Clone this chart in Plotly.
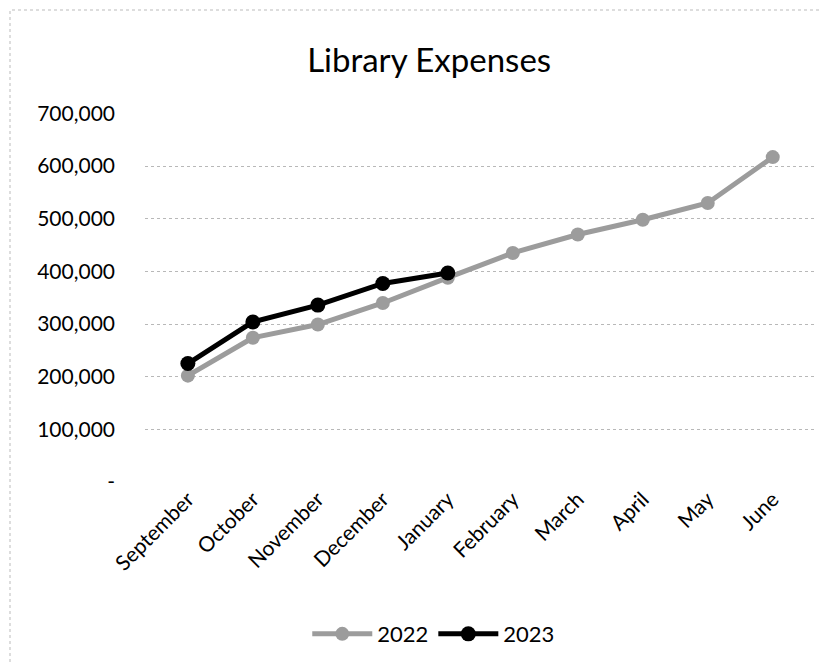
import plotly.graph_objects as go

months = ["September", "October", "November", "December", "January",
          "February", "March", "April", "May", "June"]
expenses_2022 = [202000, 274000, 299000, 340000, 388000, 435000, 470000, 498000, 530000, 617000]
expenses_2023 = [225000, 304000, 336000, 377000, 397000]
y_tickvals = [0, 100000, 200000, 300000, 400000, 500000, 600000, 700000]
y_ticktext = ["-", "100,000", "200,000", "300,000", "400,000", "500,000", "600,000", "700,000"]

FONT = "Lato, 'Open Sans', sans-serif"

fig = go.Figure()
fig.add_trace(go.Scatter(
    x=months, y=expenses_2022, name="2022", mode="lines+markers",
    line=dict(color="#9c9c9c", width=5),
    marker=dict(color="#9c9c9c", size=14),
))
fig.add_trace(go.Scatter(
    x=months[:len(expenses_2023)], y=expenses_2023, name="2023", mode="lines+markers",
    line=dict(color="#000000", width=5),
    marker=dict(color="#000000", size=15),
))

fig.update_layout(
    width=829, height=663,
    margin=dict(l=137, r=22, t=105, b=189, autoexpand=False),
    paper_bgcolor="white", plot_bgcolor="white",
    font=dict(family=FONT, color="#000000"),
    title=dict(text="Library Expenses", x=0.508, xanchor="center", y=0.921, yanchor="middle",
               font=dict(family=FONT, size=33, color="#000000")),
    showlegend=True,
    legend=dict(orientation="h", x=0.431, xanchor="center", y=-0.412, yanchor="middle",
                font=dict(family=FONT, size=22), itemwidth=60, traceorder="normal"),
    xaxis=dict(
        type="category", tickangle=-45, tickfont=dict(family=FONT, size=21),
        showgrid=False, showline=False, zeroline=False, ticks="", automargin=False,
    ),
    yaxis=dict(
        range=[0, 700800], tickvals=y_tickvals, ticktext=y_ticktext,
        tickfont=dict(family=FONT, size=21), ticklabelstandoff=29,
        showgrid=True, gridcolor="#b8b8b8", griddash="dot", gridwidth=1,
        zeroline=False, showline=False, ticks="", automargin=False,
    ),
    shapes=[dict(type="rect", xref="paper", yref="paper",
                 x0=-135/670, x1=1 + 20/670, y0=-187/369, y1=1 + 103/369,
                 line=dict(color="#bbbbbb", width=1, dash="dot"), fillcolor="rgba(0,0,0,0)",
                 layer="below")],
)

fig.write_html("out.html")
